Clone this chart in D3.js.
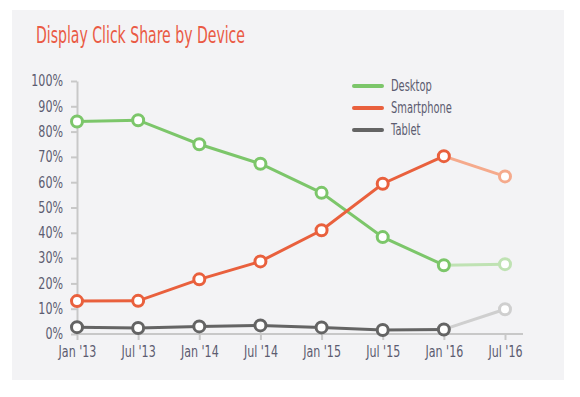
<!DOCTYPE html>
<html>
<head>
<meta charset="utf-8">
<script src="https://cdn.jsdelivr.net/npm/d3@7"></script>
<style>
  body { margin: 0; background: #fff; }
  svg text { font-family: "DejaVu Sans", sans-serif; }
</style>
</head>
<body>
<div id="chart"></div>
<script>
const months = ["Jan '13", "Jul '13", "Jan '14", "Jul '14", "Jan '15", "Jul '15", "Jan '16", "Jul '16"]
const desktop = [84, 84.5, 75, 67.3, 55.8, 38.3, 27.2, 27.6]
const smartphone = [13, 13.1, 21.6, 28.7, 41, 59.4, 70.3, 62.3]
const tablet = [2.7, 2.4, 3, 3.4, 2.6, 1.6, 1.8, 9.8]
const yTicks = [0, 10, 20, 30, 40, 50, 60, 70, 80, 90, 100]

const series = [
  { name: "Desktop", values: desktop, color: "#7cc66a", light: "#bfe2b3" },
  { name: "Smartphone", values: smartphone, color: "#e9603d", light: "#f5aa8c" },
  { name: "Tablet", values: tablet, color: "#646464", light: "#cfcfcf" }
]

const width = 580, height = 397

// no condensed font installed, so squeeze the glyphs horizontally
function condense(sel, k) {
  sel.each(function () {
    const w = this.getComputedTextLength()
    d3.select(this).attr("textLength", w * k).attr("lengthAdjust", "spacingAndGlyphs")
  })
}

const svg = d3.select("#chart").append("svg")
  .attr("width", width)
  .attr("height", height)

// panel
svg.append("rect")
  .attr("x", 12).attr("y", 10)
  .attr("width", 552).attr("height", 370)
  .attr("fill", "#f3f3f5")

svg.append("text")
  .attr("x", 36).attr("y", 43)
  .attr("fill", "#ea5a44")
  .attr("font-size", 23)
  .attr("textLength", 209)
  .attr("lengthAdjust", "spacingAndGlyphs")
  .text("Display Click Share by Device")

const x = d3.scalePoint()
  .domain(months)
  .range([77, 505])

const y = d3.scaleLinear()
  .domain([0, 100])
  .range([334, 81])

// y axis
const yAxis = svg.append("g")
  .attr("transform", "translate(77,0)")
  .call(d3.axisLeft(y).tickValues(yTicks).tickSize(6).tickSizeOuter(0).tickFormat(d => d + "%"))
yAxis.select(".domain").attr("stroke", "#c8c8c8").attr("stroke-width", 2)
yAxis.selectAll(".tick line").attr("stroke", "#c8c8c8").attr("stroke-width", 2)
yAxis.selectAll(".tick text")
  .attr("fill", "#5c5c70")
  .attr("font-size", 15)
  .attr("x", -14)
  .call(condense, 0.74)

// x axis
const xAxis = svg.append("g")
  .attr("transform", "translate(0,334)")
  .call(d3.axisBottom(x).tickSize(6).tickSizeOuter(0))
xAxis.select(".domain").attr("d", "M77,0H523").attr("stroke", "#c8c8c8").attr("stroke-width", 2)
xAxis.selectAll(".tick line").attr("stroke", "#c8c8c8").attr("stroke-width", 2)
xAxis.selectAll(".tick text")
  .attr("fill", "#5c5c70")
  .attr("font-size", 15)
  .attr("y", 12)
  .call(condense, 0.74)

const line = d3.line()
  .x(d => x(d.m))
  .y(d => y(d.v))

series.forEach(s => {
  const pts = s.values.map((v, i) => ({ m: months[i], v: v }))
  const last = pts.length - 1
  // projected segment
  svg.append("path")
    .datum(pts.slice(last - 1))
    .attr("d", line)
    .attr("fill", "none")
    .attr("stroke", s.light)
    .attr("stroke-width", 3)
  svg.append("path")
    .datum(pts.slice(0, last))
    .attr("d", line)
    .attr("fill", "none")
    .attr("stroke", s.color)
    .attr("stroke-width", 3)
  svg.selectAll(null)
    .data(pts)
    .enter()
    .append("circle")
    .attr("cx", d => x(d.m))
    .attr("cy", d => y(d.v))
    .attr("r", 5.5)
    .attr("fill", "#fff")
    .attr("stroke", (d, i) => i === last ? s.light : s.color)
    .attr("stroke-width", 3)
})

// legend
const legend = svg.append("g").attr("transform", "translate(354,86)")
series.forEach((s, i) => {
  const g = legend.append("g").attr("transform", "translate(0," + i * 22 + ")")
  g.append("line")
    .attr("x1", 0).attr("x2", 28)
    .attr("stroke", s.color)
    .attr("stroke-width", 4)
    .attr("stroke-linecap", "round")
  g.append("text")
    .attr("x", 37).attr("y", 5)
    .attr("fill", "#5c5c70")
    .attr("font-size", 15)
    .text(s.name)
    .call(condense, 0.66)
})
</script>
</body>
</html>
